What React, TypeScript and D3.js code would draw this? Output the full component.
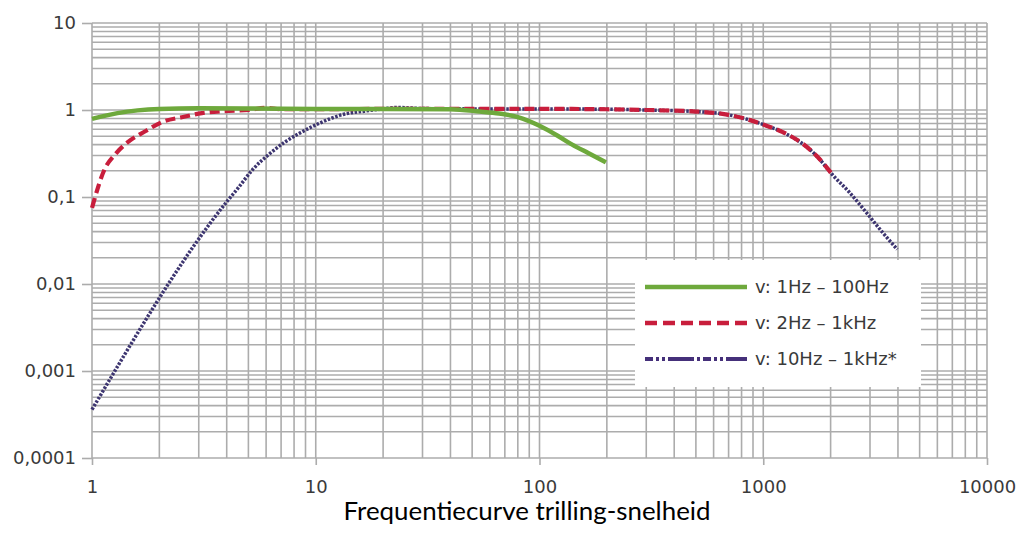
import React, { useEffect, useRef } from "react";
import * as d3 from "d3";

const width = 1021;
const height = 533;
const margin = { top: 23, right: 34, bottom: 75, left: 92 };

const green = "#6ea93c";
const red = "#c81e3c";
const purple = "#3d3570";
const gridColor = "#acacac";
const fontFamily = "'DejaVu Sans', Arial, sans-serif";

// tick values / labels (Dutch decimal comma)
const xMajor = [1, 10, 100, 1000, 10000];
const yMajor = [0.0001, 0.001, 0.01, 0.1, 1, 10];
const yLabels = ["0,0001", "0,001", "0,01", "0,1", "1", "10"];

// v: 1Hz - 100Hz
const greenFreq = [1, 1.3, 1.6, 2, 3, 5, 10, 20, 40, 54, 66, 80, 100, 120, 140, 165, 198];
const greenVal = [0.79, 0.92, 0.99, 1.03, 1.05, 1.04, 1.03, 1.03, 1.02, 0.96, 0.91, 0.83, 0.66, 0.51, 0.4, 0.32, 0.25];

// v: 2Hz - 1kHz
const redFreq = [1, 1.14, 1.27, 1.45, 1.73, 2.07, 2.55, 3.1, 3.85, 5, 6, 7, 10, 20, 50, 100, 200, 300, 500, 700, 865, 1000, 1216, 1500, 1725, 2040];
const redVal = [0.075, 0.21, 0.31, 0.43, 0.57, 0.73, 0.83, 0.92, 0.97, 1.0, 1.06, 1.02, 1.02, 1.03, 1.03, 1.03, 1.02, 1.0, 0.96, 0.88, 0.77, 0.68, 0.56, 0.41, 0.3, 0.18];

// v: 10Hz - 1kHz*
const purpleFreq = [1, 4, 4.5, 5.2, 6.2, 7.3, 8.5, 10.2, 13.5, 16.5, 20, 23, 30, 50, 100, 200, 300, 500, 700, 865, 1000, 1216, 1725, 2040, 2420, 2880, 3390, 3970];
const purpleVal = [0.00036, 0.088, 0.127, 0.204, 0.312, 0.43, 0.544, 0.69, 0.9, 0.97, 1.03, 1.07, 1.04, 1.03, 1.03, 1.02, 1.0, 0.96, 0.88, 0.77, 0.68, 0.56, 0.3, 0.18, 0.114, 0.067, 0.04, 0.025];

const legendLabels = ["v: 1Hz \u2013 100Hz", "v: 2Hz \u2013 1kHz", "v: 10Hz \u2013 1kHz*"];

const title = "Frequentiecurve trilling-snelheid";

const xScale = d3.scaleLog().domain([1, 10000]).range([margin.left, width - margin.right]);
const yScale = d3.scaleLog().domain([0.0001, 10]).range([height - margin.bottom, margin.top]);

const lineGen = d3
  .line<[number, number]>()
  .x(d => xScale(d[0]))
  .y(d => yScale(d[1]))
  .curve(d3.curveMonotoneX);

const zip = (a: number[], b: number[]) => a.map((v, i) => [v, b[i]] as [number, number]);

export default function App() {
  const xAxisRef = useRef<SVGGElement>(null);
  const yAxisRef = useRef<SVGGElement>(null);

  useEffect(() => {
    const xAxis = d3
      .axisBottom(xScale)
      .tickValues(xMajor)
      .tickSize(7)
      .tickPadding(15)
      .tickFormat(d => `${d}`);
    const yAxis = d3
      .axisLeft(yScale)
      .tickValues(yMajor)
      .tickSize(10)
      .tickPadding(6)
      .tickFormat((d, i) => yLabels[i]);

    const gx = d3.select(xAxisRef.current).call(xAxis as any);
    const gy = d3.select(yAxisRef.current).call(yAxis as any);
    [gx, gy].forEach(g => {
      g.attr("font-size", null).attr("font-family", null);
      g.select(".domain").remove();
      g.selectAll(".tick line").attr("stroke", gridColor).attr("stroke-width", 1.6);
      g.selectAll(".tick text")
        .attr("fill", "#3a3a3a")
        .attr("font-family", fontFamily)
        .attr("font-size", 18);
    });
  }, []);

  const xGrid = xScale.ticks();
  const yGrid = yScale.ticks();
  const [x0, x1] = xScale.range();
  const [y0, y1] = yScale.range();

  const series = [
    { data: zip(purpleFreq, purpleVal), color: purple, width: 3.5, dash: "2.5,1.5" },
    { data: zip(redFreq, redVal), color: red, width: 4.2, dash: "10,5" },
    { data: zip(greenFreq, greenVal), color: green, width: 4.5, dash: "none" }
  ];

  const legend = [
    { color: green, width: 4.5, dash: "none" },
    { color: red, width: 4.5, dash: "12,6" },
    { color: "#45307a", width: 4, dash: "8,3,3,3,3,3,26,3,3,3" }
  ];

  return (
    <svg
      width={width}
      height={height}
      style={{ position: "absolute", left: 0, top: 0, background: "#fff" }}
    >
      <g>
        {xGrid.map((t, i) => (
          <line key={"gx" + i} x1={xScale(t)} x2={xScale(t)} y1={y1} y2={y0} stroke={gridColor} strokeWidth={1.6} />
        ))}
        {yGrid.map((t, i) => (
          <line key={"gy" + i} x1={x0} x2={x1} y1={yScale(t)} y2={yScale(t)} stroke={gridColor} strokeWidth={1.6} />
        ))}
      </g>
      <g ref={xAxisRef} transform={`translate(0, ${y0})`} />
      <g ref={yAxisRef} transform={`translate(${x0}, 0)`} />
      <g>
        {series.map((s, i) => (
          <path
            key={i}
            d={lineGen(s.data) || ""}
            fill="none"
            stroke={s.color}
            strokeWidth={s.width}
            strokeDasharray={s.dash}
          />
        ))}
      </g>
      <g transform="translate(635, 260)">
        <rect width={286} height={127} fill="#fff" />
        {legendLabels.map((label, i) => (
          <g key={i} transform={`translate(0, ${27 + i * 36})`}>
            <line
              x1={10}
              x2={112}
              y1={0}
              y2={0}
              stroke={legend[i].color}
              strokeWidth={legend[i].width}
              strokeDasharray={legend[i].dash}
            />
            <text
              x={120}
              y={0}
              dy="0.35em"
              fill="#3a3a3a"
              style={{ fontFamily, fontSize: 18 }}
            >
              {label}
            </text>
          </g>
        ))}
      </g>
      <text
        x={527}
        y={520}
        textAnchor="middle"
        textLength={367}
        lengthAdjust="spacingAndGlyphs"
        fill="#000"
        style={{ fontFamily: "Lato, 'Open Sans', sans-serif", fontSize: 25 }}
      >
        {title}
      </text>
    </svg>
  );
}
